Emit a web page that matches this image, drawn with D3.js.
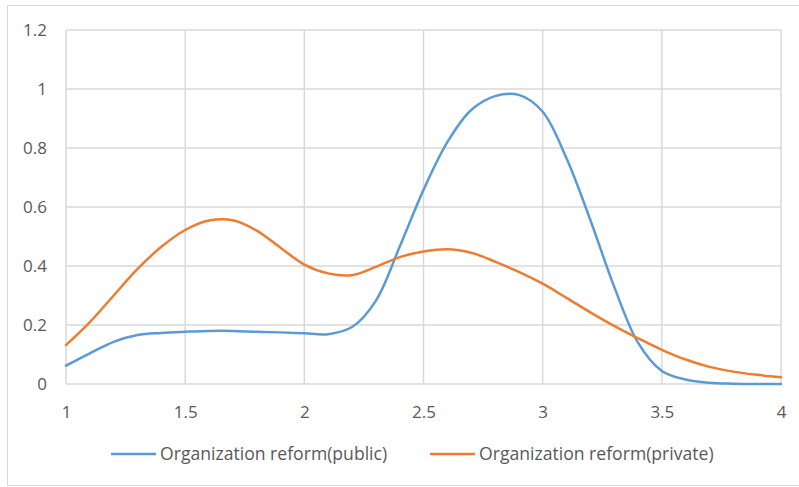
<!DOCTYPE html>
<html>
<head>
<meta charset="utf-8">
<script src="https://cdn.jsdelivr.net/npm/d3@7"></script>
<style>
  html, body { margin: 0; padding: 0; background: #fff; }
  svg { display: block; }
  text { font-family: "Open Sans", Lato, sans-serif; fill: #595959; }
</style>
</head>
<body>
<svg id="chart" width="799" height="487"></svg>
<script>
// Density estimates sampled every 0.1 on the x range
const xValues = d3.range(31).map(i => +(1 + i * 0.1).toFixed(1));
const publicValues = [
  0.062, 0.104, 0.143, 0.166, 0.173, 0.177, 0.180, 0.180, 0.177, 0.175,
  0.172, 0.169, 0.193, 0.282, 0.465, 0.658, 0.820, 0.929, 0.976, 0.980,
  0.923, 0.765, 0.556, 0.330, 0.140, 0.044, 0.015, 0.004, 0.001, 0.000,
  0.000
];
const privateValues = [
  0.132, 0.210, 0.300, 0.390, 0.465, 0.522, 0.554, 0.555, 0.520, 0.462,
  0.405, 0.375, 0.369, 0.397, 0.430, 0.449, 0.457, 0.445, 0.415, 0.380,
  0.340, 0.292, 0.243, 0.197, 0.155, 0.116, 0.083, 0.058, 0.042, 0.031,
  0.023
];
const seriesNames = ["Organization reform(public)", "Organization reform(private)"];
const xTicks = [1, 1.5, 2, 2.5, 3, 3.5, 4];
const yTicks = [0, 0.2, 0.4, 0.6, 0.8, 1, 1.2];

const series = [
  { name: seriesNames[0], values: publicValues, color: "#5b9bd5" },
  { name: seriesNames[1], values: privateValues, color: "#ed7d31" }
];

const svg = d3.select("#chart");
const margin = { left: 66, right: 18, top: 30, bottom: 103 };
const W = 799, H = 487;
const fontSize = "17px";

// Chart frame
svg.append("rect")
  .attr("x", 7.5).attr("y", 5.5)
  .attr("width", 800).attr("height", 480)
  .attr("fill", "#fff").attr("stroke", "#d9d9d9").attr("stroke-width", 1);

const x = d3.scaleLinear().domain([1, 4]).range([margin.left, W - margin.right]);
const y = d3.scaleLinear().domain([0, 1.2]).range([H - margin.bottom, margin.top]);

// Gridlines
const grid = svg.append("g");
grid.selectAll("line.v").data(xTicks).join("line")
  .attr("x1", d => x(d)).attr("x2", d => x(d))
  .attr("y1", y(0)).attr("y2", y(1.2))
  .attr("stroke", "#d9d9d9").attr("stroke-width", 1.5);
grid.selectAll("line.h").data(yTicks).join("line")
  .attr("x1", x(1)).attr("x2", x(4))
  .attr("y1", d => y(d)).attr("y2", d => y(d))
  .attr("stroke", "#d9d9d9").attr("stroke-width", 1.5);

// Axes (labels only; domain and ticks hidden)
const xAxis = svg.append("g")
  .attr("transform", `translate(0,${y(0)})`)
  .call(d3.axisBottom(x).tickValues(xTicks).tickSize(0).tickPadding(22).tickFormat(d3.format("")));
const yAxis = svg.append("g")
  .attr("transform", `translate(${x(1)},0)`)
  .call(d3.axisLeft(y).tickValues(yTicks).tickSize(0).tickPadding(19).tickFormat(d3.format("")));
[xAxis, yAxis].forEach(a => {
  a.select(".domain").remove();
  a.selectAll("text").style("font-size", fontSize).attr("fill", "#595959")
    .style("font-family", "'Open Sans', Lato, sans-serif");
});

// Smoothed lines
const line = d3.line()
  .x((d, i) => x(xValues[i]))
  .y(d => y(d))
  .curve(d3.curveCatmullRom.alpha(0.5));

svg.append("g").selectAll("path").data(series).join("path")
  .attr("d", d => line(d.values))
  .attr("fill", "none")
  .attr("stroke", d => d.color)
  .attr("stroke-width", 2.5)
  .attr("stroke-linejoin", "round")
  .attr("stroke-linecap", "round");

// Legend
const legendY = 454;
const legendX = [111, 430];
const legend = svg.append("g").selectAll("g").data(series).join("g")
  .attr("transform", (d, i) => `translate(${legendX[i]},${legendY})`);
legend.append("line")
  .attr("x1", 0).attr("x2", 45).attr("y1", 0).attr("y2", 0)
  .attr("stroke", d => d.color).attr("stroke-width", 2.5);
legend.append("text")
  .attr("x", 49).attr("y", 0).attr("dy", "0.35em")
  .style("font-size", "17.6px")
  .text(d => d.name);
</script>
</body>
</html>
